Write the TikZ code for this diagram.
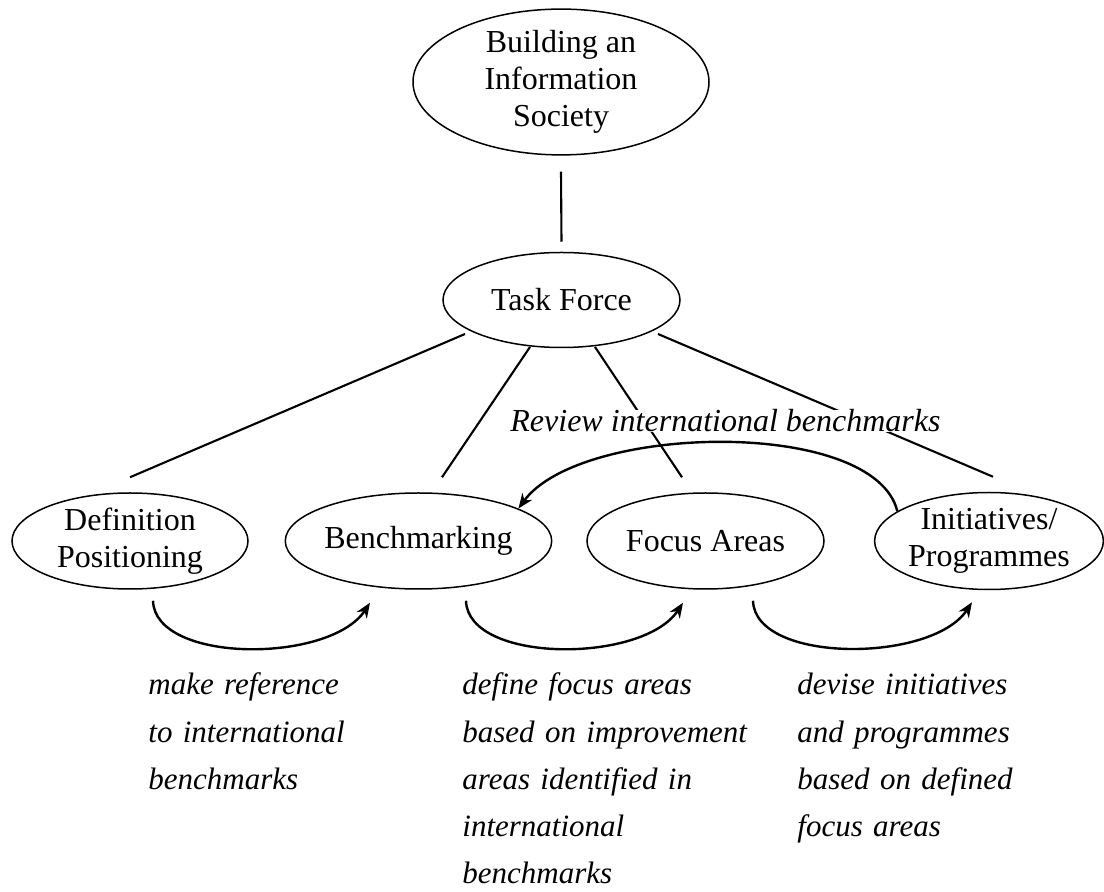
\documentclass[tikz,border=0pt]{standalone}
\usepackage{fontspec}
\setmainfont{Liberation Serif}
\usetikzlibrary{shapes.geometric,arrows.meta}
\begin{document}
\begin{tikzpicture}[x=0.5pt,y=-0.5pt,
	bubble/.style={ellipse,draw,line width=0.75pt,inner sep=0pt,align=center,font=\fontsize{16}{18.5}\selectfont},
	link/.style={line width=1.05pt},
	flow/.style={line width=1.2pt,-{Stealth[length=7.5pt,width=6pt]}},
	note/.style={anchor=base west,inner sep=0pt,text width=175pt,align=left,font=\fontsize{15.5}{23.6}\selectfont\itshape}]
	\useasboundingbox (0,0) rectangle (1104,892);

	\node[bubble,minimum width=148pt,minimum height=72pt](bis) at (561,82) {Building an\\Information\\Society};
	\node[bubble,minimum width=118.5pt,minimum height=47.5pt](tf) at (561.5,300) {Task Force};
	\node[bubble,minimum width=118pt,minimum height=48pt](def) at (130,541) {Definition\\Positioning};
	\node[bubble,minimum width=117.5pt,minimum height=48pt](bench) at (418.5,541) {Benchmarking};
	\node[bubble,minimum width=118.5pt,minimum height=48pt](focus) at (705.5,541) {Focus Areas};
	\node[bubble,minimum width=113pt,minimum height=48.5pt](init) at (989,541) {Initiatives/\\Programmes};

	\draw[link]([yshift=-8pt]bis.south)--([yshift=5pt]tf.north);
	\draw[link]([shift={(-96.5,34)}]tf.center)--([yshift=7.5pt]def.north);
	\draw[link]([shift={(-31.5,47)}]tf.center)--([shift={(23.5,-15)}]bench.north);
	\draw[link]([shift={(33.5,47)}]tf.center)--([shift={(-23.5,-15)}]focus.north);
	\draw[link]([shift={(96.5,34)}]tf.center)--([shift={(4,-15)}]init.north);

	\node[anchor=base west,inner sep=0pt,fill=white,font=\fontsize{16}{18.5}\selectfont\itshape](revw) at (510,432) {Review international benchmarks};
	\draw[flow](init.162) .. controls +(-23,-94) and +(62,-85) .. (bench.18);

	\draw[flow]([shift={(23,11)}]def.south) .. controls +(2,63) and +(-40,61) .. ([shift={(-48.5,13)}]bench.south);
	\draw[flow]([shift={(47.5,11)}]bench.south) .. controls +(2,63) and +(-40,61) .. ([shift={(-22.5,13)}]focus.south);
	\draw[flow]([shift={(47.5,11)}]focus.south) .. controls +(2,63) and +(-40,61) .. ([shift={(-17,12)}]init.south);

	\node[note](mkref) at (148,695) {make reference\\to international\\benchmarks};
	\node[note](dffoc) at (462,695) {define focus areas\\based on improvement\\areas identified in\\international\\benchmarks};
	\node[note](dvini) at (797,695) {devise initiatives\\and programmes\\based on defined\\focus areas};
\end{tikzpicture}
\end{document}
